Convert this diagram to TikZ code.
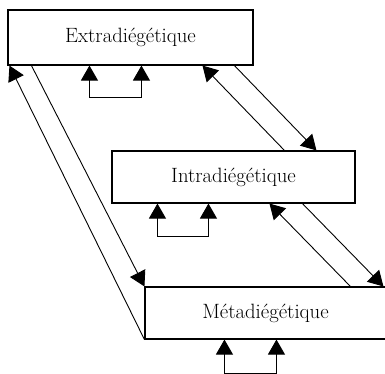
\documentclass[tikz,border=0pt]{standalone}
\usepackage{fontspec}
\usetikzlibrary{arrows.meta,calc}
\begin{document}
\begin{tikzpicture}[x=1pt,y=-1pt,
  level/.style={draw, line width=1.1pt, inner sep=0pt, fill=white,
    font=\fontsize{20.7}{24}\selectfont},
  link/.style={line width=0.9pt, -{Triangle[length=15pt,width=17pt]}},
  loop/.style={line width=0.9pt, {Triangle[length=15pt,width=17pt]}-{Triangle[length=15pt,width=17pt]}}]
\clip (0,0) rectangle (385,373);
\useasboundingbox (0,0) rectangle (385,373);

% the three narrative levels
\node[level, minimum width=245pt, minimum height=55pt] (extra) at (130.5,37.5) {Extradiégétique};
\node[level, minimum width=243pt, minimum height=52pt] (intra) at (233.5,177) {Intradiégétique};
\node[level, minimum width=241pt, minimum height=52pt] (meta) at (265.5,313) {Métadiégétique};

% self-referring loops under each level
\draw[loop] ($(extra.south west)+(82,0)$) -- ++(0,32) -| ($(extra.south west)+(134,0)$);
\draw[loop] ($(intra.south west)+(46,0)$) -- ++(0,33) -| ($(intra.south west)+(97,0)$);
\draw[loop] ($(meta.south west)+(80,0)$) |- (251,373.2) -| ($(meta.south west)+(132,0)$);

% extradiegetic <-> metadiegetic
\draw[link] (meta.south west) -- ($(extra.south west)+(2,0)$);
\draw[link] ($(extra.south west)+(24,0)$) -- (meta.north west);

% extradiegetic <-> intradiegetic
\draw[link] ($(intra.north west)+(173,0)$) -- ($(extra.south west)+(195,0)$);
\draw[link] ($(extra.south west)+(227,0)$) -- ($(intra.north west)+(205,0)$);

% intradiegetic <-> metadiegetic
\draw[link] ($(meta.north west)+(206,0)$) -- ($(intra.south west)+(158,0)$);
\draw[link] ($(intra.south west)+(191,0)$) -- ($(meta.north west)+(239,0)$);
\end{tikzpicture}
\end{document}
